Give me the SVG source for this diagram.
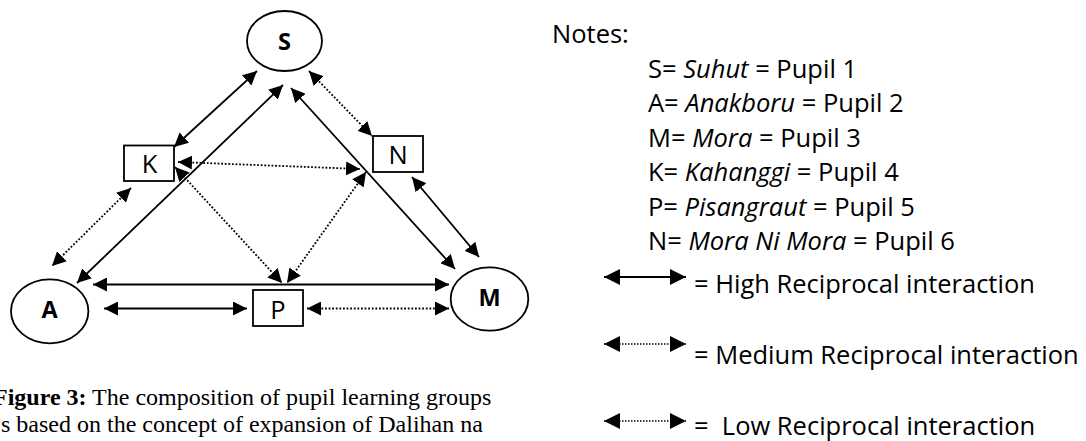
<svg xmlns="http://www.w3.org/2000/svg" width="1086" height="441" viewBox="0 0 1086 441">
  <defs>
    <marker id="ah" viewBox="0 0 14 14" refX="14" refY="7" markerWidth="14" markerHeight="14" markerUnits="userSpaceOnUse" orient="auto-start-reverse">
      <path d="M0,0 L14,7 L0,14 z" fill="#000"/>
    </marker>
    <marker id="ahL" viewBox="0 0 16 16" refX="16" refY="8" markerWidth="16" markerHeight="16" markerUnits="userSpaceOnUse" orient="auto-start-reverse">
      <path d="M0,0 L16,8 L0,16 z" fill="#000"/>
    </marker>
  </defs>
  <style>
    .node { fill: #fff; stroke: #000; stroke-width: 1.8; }
    .lbl { font-family: "Open Sans", "Liberation Sans", sans-serif; font-size: 25.5px; fill: #000; text-anchor: middle; }
    .bold { font-weight: bold; font-size: 23.5px; }
    .hi { fill: none; stroke: #000; stroke-width: 1.8; marker-start: url(#ah); marker-end: url(#ah); }
    .med { fill: none; stroke: #000; stroke-width: 1.8; stroke-dasharray: 1.8 1.8; marker-start: url(#ah); marker-end: url(#ah); }
    .lg { fill: none; stroke: #000; stroke-width: 1.8; marker-start: url(#ahL); marker-end: url(#ahL); }
    .lgd { fill: none; stroke: #000; stroke-width: 1.5; stroke-dasharray: 1.5 1.5; marker-start: url(#ahL); marker-end: url(#ahL); }
    .note { font-family: "Open Sans", "Liberation Sans", sans-serif; font-size: 25.5px; fill: #000; }
    .it { font-style: italic; }
    .cap { font-family: "Liberation Serif", "Times New Roman", serif; font-size: 24px; fill: #000; }
  </style>

  <g id="connectors">
    <line class="hi" x1="257" y1="71" x2="174" y2="147"/>
    <line class="hi" x1="283" y1="85" x2="77" y2="283"/>
    <line class="hi" x1="291" y1="88" x2="455" y2="269"/>
    <line class="med" x1="309" y1="71" x2="372" y2="136"/>
    <line class="med" x1="178" y1="162" x2="360" y2="169"/>
    <line class="med" x1="131" y1="188" x2="52" y2="266"/>
    <line class="med" x1="175" y1="167" x2="282" y2="283"/>
    <line class="med" x1="366" y1="172" x2="287" y2="283"/>
    <line class="hi" x1="412" y1="177" x2="479" y2="257"/>
    <line class="hi" x1="93" y1="284.5" x2="449" y2="284.5"/>
    <line class="hi" x1="104" y1="308.5" x2="247" y2="308.5"/>
    <line class="med" x1="307" y1="308.5" x2="449" y2="308.5"/>
  </g>

  <g id="node-S">
    <ellipse class="node" cx="284.5" cy="41" rx="37.5" ry="30"/>
    <text class="lbl bold" x="284.5" y="49.5">S</text>
  </g>
  <g id="node-K">
    <rect class="node" x="124" y="145.5" width="50" height="35.5"/>
    <text class="lbl" x="149.5" y="173">K</text>
  </g>
  <g id="node-N">
    <rect class="node" x="373" y="136" width="50" height="36"/>
    <text class="lbl" x="398" y="163.5">N</text>
  </g>
  <g id="node-A">
    <ellipse class="node" cx="49.7" cy="311.3" rx="38.7" ry="32"/>
    <text class="lbl bold" x="49.7" y="317.5">A</text>
  </g>
  <g id="node-P">
    <rect class="node" x="253" y="290" width="50" height="36"/>
    <text class="lbl" x="278" y="318.5">P</text>
  </g>
  <g id="node-M">
    <ellipse class="node" cx="489.5" cy="299" rx="38.8" ry="31.7"/>
    <text class="lbl bold" x="489.5" y="305.5">M</text>
  </g>

  <g id="notes">
    <text class="note" x="552" y="43">Notes:</text>
    <text class="note" x="648" y="77.5">S= <tspan class="it">Suhut</tspan> = Pupil 1</text>
    <text class="note" x="648" y="112">A= <tspan class="it">Anakboru</tspan> = Pupil 2</text>
    <text class="note" x="648" y="146.5">M= <tspan class="it">Mora</tspan> = Pupil 3</text>
    <text class="note" x="648" y="181">K= <tspan class="it">Kahanggi</tspan> = Pupil 4</text>
    <text class="note" x="648" y="215.5">P= <tspan class="it">Pisangraut</tspan> = Pupil 5</text>
    <text class="note" x="648" y="250">N= <tspan class="it">Mora Ni Mora</tspan> = Pupil 6</text>
  </g>

  <g id="legend">
    <line class="lg" x1="604" y1="277" x2="686" y2="277"/>
    <text class="note" x="694" y="292.5">= High Reciprocal interaction</text>
    <line class="lgd" x1="604" y1="344" x2="686" y2="344"/>
    <text class="note" x="694" y="363.5">= Medium Reciprocal interaction</text>
    <line class="lgd" x1="604" y1="421" x2="686" y2="421"/>
    <text class="note" x="694" y="434.5" xml:space="preserve">=  Low Reciprocal interaction</text>
  </g>

  <g id="caption">
    <text class="cap" x="-7" y="405"><tspan font-weight="bold">Figure 3:</tspan> The composition of pupil learning groups</text>
    <text class="cap" x="1" y="432">s based on the concept of expansion of Dalihan na</text>
  </g>
</svg>
